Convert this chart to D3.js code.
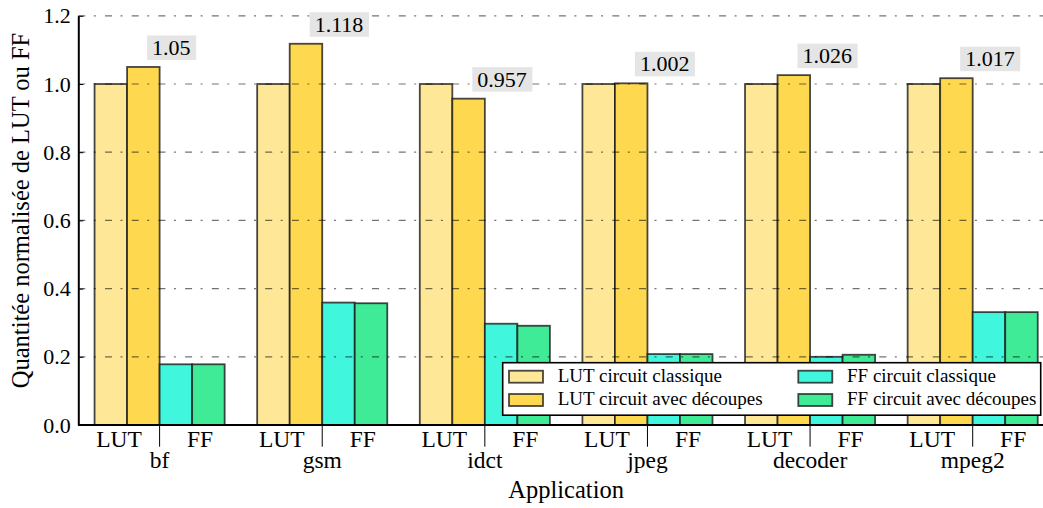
<!DOCTYPE html>
<html>
<head>
<meta charset="utf-8">
<script src="https://d3js.org/d3.v7.min.js"></script>
<style>
  html, body { margin: 0; padding: 0; background: #fff; }
  svg { display: block; }
  text { font-family: "Liberation Serif", "Times New Roman", serif; fill: #000; }
</style>
</head>
<body>
<svg id="chart" width="1043" height="508"></svg>
<script>
// ---- data ----
const apps = ["bf", "gsm", "idct", "jpeg", "decoder", "mpeg2"];
const seriesNames = ["LUT circuit classique", "LUT circuit avec découpes", "FF circuit classique", "FF circuit avec découpes"];
const lutClassique = [1.0, 1.0, 1.0, 1.0, 1.0, 1.0];
const lutDecoupes = [1.05, 1.118, 0.957, 1.002, 1.026, 1.017];
const ffClassique = [0.178, 0.359, 0.297, 0.208, 0.200, 0.331];
const ffDecoupes = [0.178, 0.357, 0.291, 0.208, 0.206, 0.331];
const ratioLabels = ["1.05", "1.118", "0.957", "1.002", "1.026", "1.017"];
const yTickValues = [0.0, 0.2, 0.4, 0.6, 0.8, 1.0, 1.2];
const yTickLabels = ["0.0", "0.2", "0.4", "0.6", "0.8", "1.0", "1.2"];
const subLabels = ["LUT", "FF"];
const xTitle = "Application";
const yTitle = "Quantitée normalisée de LUT ou FF";

// ---- styles ----
const colors = ["#FEE897", "#FED94F", "#40F6DC", "#40EB98"];
const seriesData = [lutClassique, lutDecoupes, ffClassique, ffDecoupes];

const svg = d3.select("#chart");
const mLeft = 78.3, mRight = 1054, mBottom = 425, mTop = 15.8;

const x0 = d3.scaleBand().domain(apps).range([mLeft, mRight]).paddingInner(0.2).paddingOuter(0.1);
const x1 = d3.scaleBand().domain(d3.range(seriesNames.length)).range([0, x0.bandwidth()]);
const y = d3.scaleLinear().domain([0, 1.2]).range([mBottom, mTop]);

// bars
const groups = svg.append("g").selectAll("g").data(apps).join("g")
  .attr("transform", d => `translate(${x0(d)},0)`);
groups.selectAll("rect")
  .data((d, i) => seriesData.map((s, k) => ({k, v: s[i]})))
  .join("rect")
  .attr("x", d => x1(d.k))
  .attr("width", x1.bandwidth())
  .attr("y", d => y(d.v))
  .attr("height", d => y(0) - y(d.v))
  .attr("fill", d => colors[d.k])
  .attr("stroke", "#1a1a1a")
  .attr("stroke-opacity", 0.8)
  .attr("stroke-width", 1.8);

// grid (drawn over the bars)
svg.append("g").selectAll("line").data(yTickValues.filter(v => v > 0)).join("line")
  .attr("x1", mLeft).attr("x2", 1043)
  .attr("y1", d => y(d)).attr("y2", d => y(d))
  .attr("stroke", "#000")
  .attr("stroke-opacity", 0.55)
  .attr("stroke-width", 1.2)
  .attr("stroke-dasharray", "7,8.5,2,9.2");

// y axis
const yAxis = d3.axisLeft(y).tickValues(yTickValues).tickFormat((d, i) => yTickLabels[i]).tickSizeInner(-5).tickSizeOuter(0).tickPadding(12);
const gy = svg.append("g").attr("transform", `translate(${mLeft},0)`).call(yAxis);
gy.select(".domain").attr("stroke", "#000").attr("stroke-width", 2);
gy.selectAll(".tick line").attr("stroke", "#000").attr("stroke-width", 1);
gy.selectAll(".tick text").attr("font-size", 22).attr("x", -7.5);

// x axis baseline
const xAxis = d3.axisBottom(x0).tickSize(0).tickFormat("");
const gx = svg.append("g").attr("transform", `translate(0,${mBottom})`).call(xAxis);
gx.select(".domain").attr("stroke", "#000").attr("stroke-width", 2.2).attr("d", `M${mLeft},0H${mRight}`);

// dividers and labels
const xg = svg.append("g");
apps.forEach((a, i) => {
  const div = x0(a) + x1(2);
  xg.append("line").attr("x1", div).attr("x2", div).attr("y1", mBottom).attr("y2", mBottom + 21.7)
    .attr("stroke", "#000").attr("stroke-width", 1);
  subLabels.forEach((s, j) => {
    xg.append("text").attr("x", div + (j === 0 ? -40.5 : 40.5)).attr("y", 447)
      .attr("text-anchor", "middle").attr("font-size", 23.5).text(s);
  });
  xg.append("text").attr("x", div).attr("y", 468).attr("text-anchor", "middle")
    .attr("font-size", 23.5).text(a);
});

// annotations
const ann = svg.append("g");
apps.forEach((a, i) => {
  const cx = x0(a) + x1(1) + x1.bandwidth() / 2;
  const base = y(lutDecoupes[i]) - 12;
  const g = ann.append("g");
  const rect = g.append("rect");
  const t = g.append("text").attr("x", cx + 8.7).attr("y", base).attr("font-size", 22).text(ratioLabels[i]);
  const w = t.node().getComputedTextLength();
  rect.attr("x", cx + 3.7).attr("y", base - 19.5).attr("width", w + 10.6).attr("height", 24.5)
    .attr("fill", "#e5e5e5");
});

// axis titles
svg.append("text").attr("x", (mLeft + mRight) / 2).attr("y", 498).attr("text-anchor", "middle")
  .attr("font-size", 24.5).text(xTitle);
svg.append("text").attr("transform", "translate(29,210.5) rotate(-90)").attr("text-anchor", "middle")
  .attr("font-size", 24.5).text(yTitle);

// legend
const lg = svg.append("g");
lg.append("rect").attr("x", 502.7).attr("y", 362.7).attr("width", 538).attr("height", 52.5)
  .attr("fill", "#fff").attr("stroke", "#000").attr("stroke-width", 1.6);
const colX = [509, 798.3];
const rowY = [370.7, 394];
seriesNames.forEach((n, k) => {
  const c = Math.floor(k / 2), r = k % 2;
  lg.append("rect").attr("x", colX[c]).attr("y", rowY[r]).attr("width", 34).attr("height", 12)
    .attr("fill", colors[k]).attr("stroke", "#1a1a1a").attr("stroke-opacity", 0.8).attr("stroke-width", 1.8);
  lg.append("text").attr("x", colX[c] + 48.7).attr("y", rowY[r] + 11).attr("font-size", 19).text(n);
});
</script>
</body>
</html>
